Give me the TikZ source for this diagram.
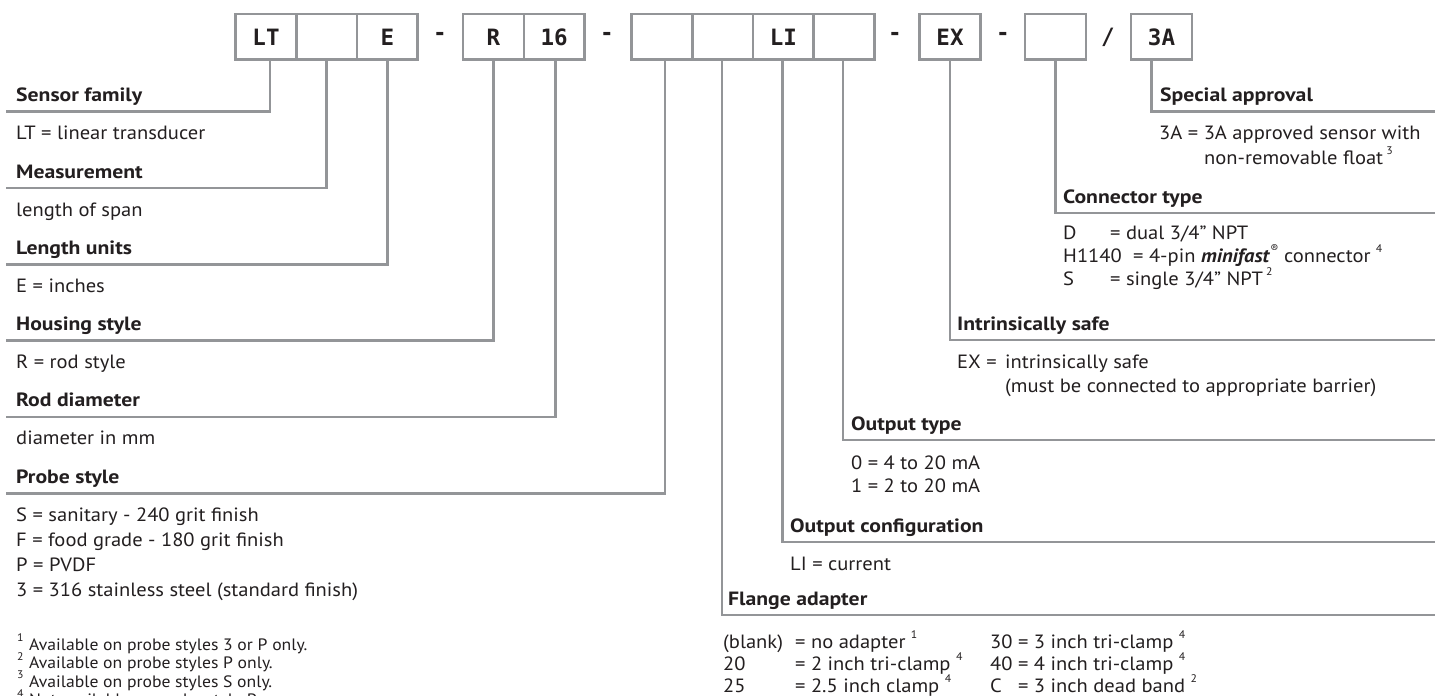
\documentclass[tikz,border=0pt]{standalone}
\usepackage{fontspec}
\setmainfont{PT Sans}[FakeStretch=1.07]
\newfontfamily\hdfont{PT Sans}[FakeStretch=1.13]
\newfontfamily\codefont{DejaVu Sans Mono}
\definecolor{lg}{HTML}{939598}
\definecolor{ink}{HTML}{231F20}
\newcommand\fnsup[1]{\raisebox{0.5em}{\fontsize{11}{11}\selectfont #1}}
\begin{document}
\begin{tikzpicture}[x=1pt,y=-1pt,
  code/.style={draw=lg, line width=2.6pt, minimum width=60.7pt, minimum height=45.7pt, inner sep=0pt, text=ink, font=\codefont\bfseries\fontsize{22.5}{24}\selectfont},
  sep/.style={inner sep=0pt, text=ink, font=\codefont\bfseries\fontsize{22.5}{24}\selectfont},
  conn/.style={draw=lg, line width=2.6pt},
  hd/.style={anchor=base west, inner sep=0pt, text=ink, font=\hdfont\fontsize{19.2}{22}\selectfont\bfseries},
  tv/.style={anchor=base west, inner sep=0pt, text=ink, font=\fontsize{19.2}{22}\selectfont},
  fn/.style={anchor=base west, inner sep=0pt, text=ink, font=\fontsize{16.5}{18}\selectfont}]
\useasboundingbox (0,0) rectangle (1435,696);
\clip (0,0) rectangle (1435,696);
\fill[white] (0,0) rectangle (1435,696);

% ---- code boxes ----
\node[code] (bLT) at (266,36.9) {LT};
\node[code] (bM)  at (326.7,36.9) {};
\node[code] (bE)  at (387.4,36.9) {E};
\node[sep]  (d1)  at (440,36.9) {-};
\node[code] (bR)  at (493.5,36.9) {R};
\node[code] (b16) at (554.2,36.9) {16};
\node[sep]  (d2)  at (607,36.9) {-};
\node[code] (bP)  at (662,36.9) {};
\node[code] (bF)  at (722.7,36.9) {};
\node[code] (bLI) at (783.4,36.9) {LI};
\node[code] (bO)  at (844.1,36.9) {};
\node[sep]  (d3)  at (895,36.9) {-};
\node[code] (bEX) at (950,36.9) {EX};
\node[sep]  (d4)  at (1003,36.9) {-};
\node[code] (bC)  at (1055.5,36.9) {};
\node[sep]  (d5)  at (1108,36.9) {/};
\node[code] (b3A) at (1161.5,36.9) {3A};

% ---- left side ----
\coordinate (eSF) at (6,111.7);
\coordinate (eMe) at (6,188);
\coordinate (eLU) at (6,264.3);
\coordinate (eHS) at (6,340.6);
\coordinate (eRD) at (6,416.9);
\coordinate (ePS) at (6,493.2);
\draw[conn] ([xshift=4pt]bLT.south) |- (eSF);
\draw[conn] (bM.south) |- (eMe);
\draw[conn] (bE.south) |- (eLU);
\draw[conn] (bR.south) |- (eHS);
\draw[conn] ([xshift=1pt]b16.south) |- (eRD);
\draw[conn] ([xshift=3pt]bP.south) |- (ePS);

\node[hd] (tSF) at (16,101.7) {Sensor family};
\node[tv] (vSF) at (16,139.7) {LT = linear transducer};
\node[hd] (tMe) at (16,178) {Measurement};
\node[tv] (vMe) at (16,216) {length of span};
\node[hd] (tLU) at (16,254.3) {Length units};
\node[tv] (vLU) at (16,292.3) {E = inches};
\node[hd] (tHS) at (16,330.6) {Housing style};
\node[tv] (vHS) at (16,368.6) {R = rod style};
\node[hd] (tRD) at (16,406.9) {Rod diameter};
\node[tv] (vRD) at (16,444.9) {diameter in mm};
\node[hd] (tPS) at (16,483.2) {Probe style};
\node[tv] (vPS1) at (16,521.2) {S = sanitary - 240 grit finish};
\node[tv] (vPS2) at (16,546.2) {F = food grade - 180 grit finish};
\node[tv] (vPS3) at (16,571.2) {P = PVDF};
\node[tv] (vPS4) at (16,596.2) {3 = 316 stainless steel (standard finish)};

\node[fn] (f1) at (17,650) {\makebox[12pt][l]{\fnsup{1}}Available on probe styles 3 or P only.};
\node[fn] (f2) at (17,668.5) {\makebox[12pt][l]{\fnsup{2}}Available on probe styles P only.};
\node[fn] (f3) at (17,687) {\makebox[12pt][l]{\fnsup{3}}Available on probe styles S only.};
\node[fn] (f4) at (17,705.5) {\makebox[12pt][l]{\fnsup{4}}Not available on probe style P.};

% ---- right side ----
\coordinate (eSA) at (1437,111.5);
\coordinate (eCT) at (1437,213);
\coordinate (eIS) at (1437,340);
\coordinate (eOT) at (1437,440);
\coordinate (eOC) at (1437,542);
\coordinate (eFA) at (1437,615);
\draw[conn] ([xshift=-10pt]b3A.south) |- (eSA);
\draw[conn] (bC.south) |- (eCT);
\draw[conn] (bEX.south) |- (eIS);
\draw[conn] ([xshift=-1pt]bO.south) |- (eOT);
\draw[conn] ([xshift=-0.7pt]bLI.south) |- (eOC);
\draw[conn] ([xshift=-0.7pt]bF.south) |- (eFA);

\node[hd] (tSA) at (1160,101.5) {Special approval};
\node[tv] (vSA1) at (1159,139.5) {3A = 3A approved sensor with};
\node[tv] (vSA2) at (1204,164.5) {non-removable float\,\fnsup{3}};

\node[hd] (tCT) at (1063,203) {Connector type};
\node[tv] (vCT1) at (1063,239.5) {D};
\node[tv] (vCT1b) at (1110,239.5) {= dual 3/4” NPT};
\node[tv] (vCT2) at (1063,262.5) {H1140};
\node[tv] (vCT2b) at (1133,262.5) {= 4-pin \textbf{\textit{minifast}}\fnsup{®} connector \fnsup{4}};
\node[tv] (vCT3) at (1063,285.5) {S};
\node[tv] (vCT3b) at (1110,285.5) {= single 3/4” NPT\,\fnsup{2}};

\node[hd] (tIS) at (957,330) {Intrinsically safe};
\node[tv] (vIS1) at (957,368.5) {EX =};
\node[tv] (vIS1b) at (1005,368.5) {intrinsically safe};
\node[tv] (vIS2) at (1005,392.5) {(must be connected to appropriate barrier)};

\node[hd] (tOT) at (851,430) {Output type};
\node[tv] (vOT1) at (851,469) {0 = 4 to 20 mA};
\node[tv] (vOT2) at (851,492) {1 = 2 to 20 mA};

\node[hd] (tOC) at (790,532) {Output configuration};
\node[tv] (vOC) at (790,570.5) {LI = current};

\node[hd] (tFA) at (728,605) {Flange adapter};
\node[tv] (vFA1a) at (723,648.5) {(blank)};
\node[tv] (vFA1b) at (795,648.5) {= no adapter \fnsup{1}};
\node[tv] (vFA2a) at (723,670.5) {20};
\node[tv] (vFA2b) at (795,670.5) {= 2 inch tri-clamp \fnsup{4}};
\node[tv] (vFA3a) at (723,692.5) {25};
\node[tv] (vFA3b) at (795,692.5) {= 2.5 inch clamp \fnsup{4}};
\node[tv] (vFA4) at (990,648.5) {30 = 3 inch tri-clamp \fnsup{4}};
\node[tv] (vFA5) at (990,670.5) {40 = 4 inch tri-clamp \fnsup{4}};
\node[tv] (vFA6) at (990,692.5) {\rlap{C}\hphantom{30} = 3 inch dead band \fnsup{2}};
\end{tikzpicture}
\end{document}
